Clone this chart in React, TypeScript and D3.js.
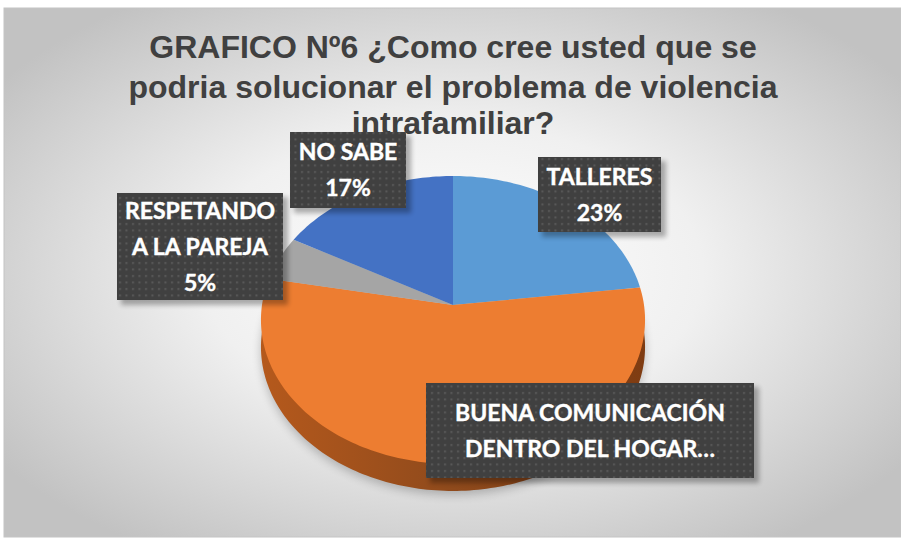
import React from "react";
import * as d3 from "d3";

const categories = ["TALLERES", "BUENA COMUNICACIÓN DENTRO DEL HOGAR", "RESPETANDO A LA PAREJA", "NO SABE"];
const values = [23, 55, 5, 17];
const colors = ["#5b9bd5", "#ed7d31", "#a5a5a5", "#4472c4"];
const titleLines = ["GRAFICO Nº6 ¿Como cree usted que se", "podria solucionar el problema de violencia", "intrafamiliar?"];
const labelLines = [["TALLERES", "23%"], ["BUENA COMUNICACIÓN", "DENTRO DEL HOGAR…"], ["RESPETANDO", "A LA PAREJA", "5%"], ["NO SABE", "17%"]];
const labelBoxes = [
  [538, 157, 123, 75],
  [426, 383, 328, 95],
  [117, 193, 166, 107],
  [290, 132, 116, 76],
];

const W = 901, H = 538;
const CX = 453, CY = 305, RX = 191, RY = 142.4, K = 0.104, DEPTH = 27;

function project(angle: number, r = 1): [number, number] {
  const u = Math.sin(angle) * r, v = -Math.cos(angle) * r;
  const w = 1 - K * v;
  return [CX + (RX * u) / w, CY + (RY * v) / w];
}

function slicePath(a0: number, a1: number): string {
  const n = Math.max(2, Math.ceil((a1 - a0) / 0.02));
  const scale = d3.scaleLinear().domain([0, n]).range([a0, a1]);
  const pts = d3.range(n + 1).map((i) => project(scale(i)));
  const line = d3.line();
  return line([[CX, CY], ...pts, [CX, CY]] as [number, number][]) + "Z";
}

export default function App() {
  const arcs = d3.pie<number>().sort(null)(values);
  const full = slicePath(0, Math.PI * 2);
  const orange = arcs[1];
  const wall = slicePath(orange.startAngle, orange.endAngle);
  return (
    <svg width={W} height={H} style={{ position: "absolute", left: 0, top: 0 }}>
      <defs>
        <radialGradient id="bg" cx="50%" cy="50%" r="62%">
          <stop offset="0" stopColor="#ffffff" />
          <stop offset="0.45" stopColor="#f0f0f0" />
          <stop offset="1" stopColor="#c2c2c2" />
        </radialGradient>
        <linearGradient id="wall" x1="0" x2="1" y1="0" y2="0">
          <stop offset="0" stopColor="#b5591c" />
          <stop offset="0.5" stopColor="#8f4a1c" />
          <stop offset="1" stopColor="#7f3c12" />
        </linearGradient>
        <pattern id="dots" width="6.5" height="6.5" patternUnits="userSpaceOnUse">
          <rect width="6.5" height="6.5" fill="#404040" />
          <rect x="2" y="2" width="2" height="2" fill="#5a5a5a" />
        </pattern>
        <filter id="soft" x="-20%" y="-20%" width="140%" height="140%">
          <feGaussianBlur stdDeviation="5" />
        </filter>
        <filter id="boxShadow" x="-20%" y="-20%" width="140%" height="140%">
          <feGaussianBlur stdDeviation="2.5" />
        </filter>
      </defs>
      <rect x={0} y={0} width={W} height={H} fill="#ffffff" />
      <rect x={4} y={8} width={897} height={529} fill="url(#bg)" stroke="#c4c4c4" strokeWidth={1} />
      <g fontFamily="'Liberation Sans', Arial, sans-serif" fontWeight={700} fontSize={32} fill="#404040" textAnchor="middle">
        {titleLines.map((t, i) => (
          <text key={i} x={453} y={[58, 98, 134][i]}>{t}</text>
        ))}
      </g>
      <path d={full} transform={`translate(0,${DEPTH + 4})`} fill="#000" opacity={0.22} filter="url(#soft)" />
      <g transform={`translate(0,${DEPTH})`}>
        <path d={wall} fill="url(#wall)" />
      </g>
      {arcs.map((a, i) => (
        <path key={categories[i]} d={slicePath(a.startAngle, a.endAngle)} fill={colors[i]} />
      ))}
      {labelBoxes.map(([x, y, w, h], i) => (
        <g key={i}>
          <rect x={x + 4} y={y + 4} width={w + 1} height={h + 1} fill="#000" opacity={0.3} filter="url(#boxShadow)" />
          <rect x={x} y={y} width={w} height={h} fill="url(#dots)" />
          <text
            textAnchor="middle"
            fontFamily="Lato, 'Open Sans', sans-serif"
            fontWeight={700}
            fontSize={23}
            fill="#ffffff"
            stroke="#ffffff"
            strokeWidth={0.4}
          >
            {labelLines[i].map((l, j) => (
              <tspan key={j} x={x + w / 2} y={y + h / 2 + 8 + (j - (labelLines[i].length - 1) / 2) * 36}>{l}</tspan>
            ))}
          </text>
        </g>
      ))}
    </svg>
  );
}
